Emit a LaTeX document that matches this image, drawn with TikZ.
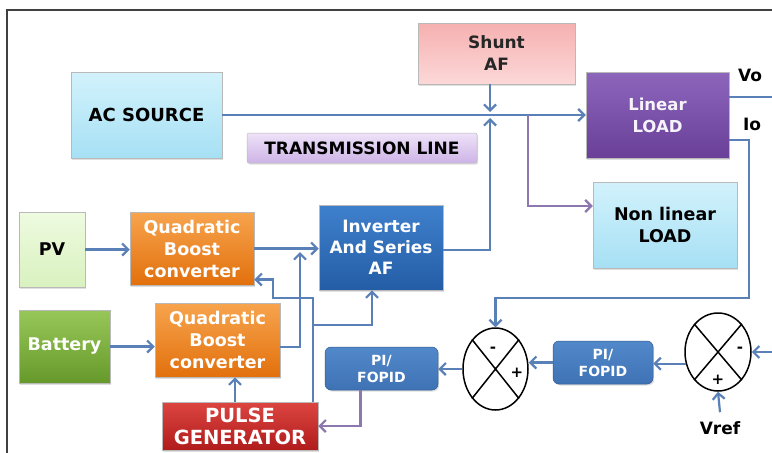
\documentclass[tikz,border=0pt]{standalone}
\usepackage{fontspec}
\setmainfont{DejaVu Sans}
\usetikzlibrary{arrows.meta,shapes.geometric,shadows}

\definecolor{linea}{HTML}{5A80B8}
\definecolor{morado}{HTML}{8C77AE}
\definecolor{acA}{HTML}{D2F2FC}\definecolor{acB}{HTML}{A6E0F4}
\definecolor{tlA}{HTML}{EEE2F8}\definecolor{tlB}{HTML}{CDB4E6}
\definecolor{shA}{HTML}{F6B0B0}\definecolor{shB}{HTML}{FCD8D8}
\definecolor{liA}{HTML}{8D66BC}\definecolor{liB}{HTML}{693F98}
\definecolor{inA}{HTML}{3F80CC}\definecolor{inB}{HTML}{245DA6}
\definecolor{pvA}{HTML}{EEFBE0}\definecolor{pvB}{HTML}{D9F1BF}
\definecolor{qbA}{HTML}{F7A44E}\definecolor{qbB}{HTML}{E2700C}
\definecolor{baA}{HTML}{97C758}\definecolor{baB}{HTML}{66992B}
\definecolor{pgA}{HTML}{DC4540}\definecolor{pgB}{HTML}{B01C1C}
\definecolor{piA}{HTML}{5289CB}\definecolor{piB}{HTML}{3E72B5}

\begin{document}
\begin{tikzpicture}[x=1pt, y=-1pt,
    caja/.style={inner sep=0pt, align=center, draw=gray!55, line width=0.5pt,
      font=\bfseries\fontsize{17.5}{22}\selectfont,
      drop shadow={shadow xshift=1.2pt, shadow yshift=-1.5pt, opacity=0.25}},
    pid/.style={caja, rounded corners=6pt, draw=piB!80!black, top color=piA, bottom color=piB,
      text=white, font=\bfseries\fontsize{14}{17}\selectfont, minimum height=43pt},
    suma/.style={ellipse, draw=black, line width=1.5pt, inner sep=0pt},
    etiq/.style={font=\bfseries\fontsize{17}{20}\selectfont, inner sep=1pt},
    signo/.style={font=\bfseries\fontsize{15}{15}\selectfont, inner sep=0pt},
    flecha/.style={draw=linea, line width=2.2pt, -{Straight Barb[length=6pt,width=12pt]}},
    conex/.style={draw=linea, line width=2.2pt}]
    % Fondo y marco
    \fill[white] (0,0) rectangle (772,453);
    \useasboundingbox (0,0) rectangle (772,453);
    \draw[line width=1.2pt, black!75] (7,453) -- (7,10) -- (772,10);

    % Bloques de la red
    \node[caja, top color=acA, bottom color=acB, minimum width=151pt, minimum height=86pt,
      font=\bfseries\fontsize{18}{22}\selectfont] (ac) at (146.5,115) {AC SOURCE};
    \node[caja, top color=tlA, bottom color=tlB, minimum width=230pt, minimum height=30pt,
      rounded corners=2pt, font=\bfseries\fontsize{17}{20}\selectfont] (tl) at (362,148) {TRANSMISSION LINE};
    \node[caja, top color=shA, bottom color=shB, minimum width=157pt, minimum height=61pt,
      text=black!85, font=\bfseries\fontsize{17}{22}\selectfont] (shunt) at (496.5,53.5) {Shunt\\AF};
    \node[caja, top color=liA, bottom color=liB, minimum width=143pt, minimum height=86pt,
      text=white!92!liA, font=\bfseries\fontsize{16.5}{22}\selectfont] (lin) at (657.5,115) {Linear\\LOAD};
    \node[caja, top color=acA, bottom color=acB, minimum width=144pt, minimum height=86pt,
      font=\bfseries\fontsize{17.5}{22}\selectfont] (nolin) at (665,225) {Non linear\\LOAD};
    \node[caja, top color=inA, bottom color=inB, minimum width=124pt, minimum height=85pt,
      text=white, font=\bfseries\fontsize{17}{21}\selectfont] (inv) at (381,247.5) {Inverter\\And Series\\AF};

    % Fuentes y convertidores
    \node[caja, top color=pvA, bottom color=pvB, minimum width=66pt, minimum height=75pt] (pv) at (52,249.5) {PV};
    \node[caja, top color=qbA, bottom color=qbB, minimum width=124pt, minimum height=73pt,
      text=white] (qb1) at (192,248.5) {Quadratic\\Boost\\converter};
    \node[caja, top color=baA, bottom color=baB, minimum width=91pt, minimum height=73pt,
      text=white] (bat) at (64.5,346.5) {Battery};
    \node[caja, top color=qbA, bottom color=qbB, minimum width=125pt, minimum height=74pt,
      text=white] (qb2) at (217.5,340) {Quadratic\\Boost\\converter};
    \node[caja, top color=pgA, bottom color=pgB, minimum width=156pt, minimum height=48pt,
      text=white, font=\bfseries\fontsize{19.5}{22}\selectfont] (pg) at (240,426) {PULSE\\GENERATOR};

    % Lazo de control
    \node[pid, minimum width=113pt] (pi1) at (381.5,368.5) {PI/\\FOPID};
    \node[pid, minimum width=100pt] (pi2) at (603,362.5) {PI/\\FOPID};
    \node[suma, minimum width=65pt, minimum height=82pt] (s1) at (495.5,369) {};
    \node[suma, minimum width=66pt, minimum height=78pt] (s2) at (718,352) {};
    \draw[line width=1.5pt] (s1.north west) -- (s1.south east) (s1.north east) -- (s1.south west);
    \draw[line width=1.5pt] (s2.north west) -- (s2.south east) (s2.north east) -- (s2.south west);
    \node[signo] at (493,350) {-};
    \node[signo] at (517,373) {+};
    \node[signo] at (740,350) {-};
    \node[signo] at (718,380) {+};

    % Etiquetas
    \node[etiq] (vo) at (750,75) {Vo};
    \node[etiq] (io) at (752,124) {Io};
    \node[etiq] (vref) at (720,428) {Vref};

    % Coordenadas de paso
    \coordinate (jn) at (490,115);
    \coordinate (rama) at (528,115);
    \coordinate (salvo) at (772,97);
    \coordinate (bajio) at (749,298);
    \coordinate (ent) at (772,350);
    \coordinate (p1) at (273,298);
    \coordinate (p2) at (313,325);
    \coordinate (p3) at (300,252);

    % Conexiones de potencia
    \draw[flecha] (ac.east) -- (lin.west);
    \draw[flecha] (shunt.south -| jn) -- ([yshift=3pt]jn);
    \draw[flecha] ([yshift=-2.5pt]inv.east) -| ([yshift=-3pt]jn);
    \draw[flecha, draw=morado] (rama) |- ([yshift=19pt]nolin.west);
    \draw[conex] (lin.east |- salvo) -- (salvo);
    \draw[flecha] (pv.east) -- (pv.east -| qb1.west);
    \draw[flecha] (bat.east) -- (bat.east -| qb2.west);
    \draw[flecha] (qb1.east) -- (qb1.east -| inv.west);
    \draw[flecha] ([yshift=-7pt]qb2.east) -| (p3);

    % Conexiones de control
    \draw[flecha] ([yshift=-25pt]lin.east) -| (bajio) -| (s1.north);
    \draw[flecha] (ent |- s2.east) -- (s2.east);
    \draw[flecha] ([yshift=8pt]vref.north) -- (s2.south);
    \draw[flecha] (s2.200) -- (s2.200 -| pi2.east);
    \draw[flecha] (pi2.west) -- (pi2.west -| s1.east);
    \draw[flecha] (s1.west) -- (s1.west -| pi1.east);
    \draw[flecha, draw=morado] ([xshift=-21pt]pi1.south) |- (pg.east);
    \draw[flecha] ([xshift=-5pt]pg.north) -- ([xshift=-5pt]pg.north |- qb2.south);
    \draw[flecha] ([xshift=-5pt]pg.north east) |- (p1) |- ([yshift=-31pt]qb1.east);
    \draw[flecha] (p2) -| ([xshift=-9pt]inv.south);
\end{tikzpicture}
\end{document}
